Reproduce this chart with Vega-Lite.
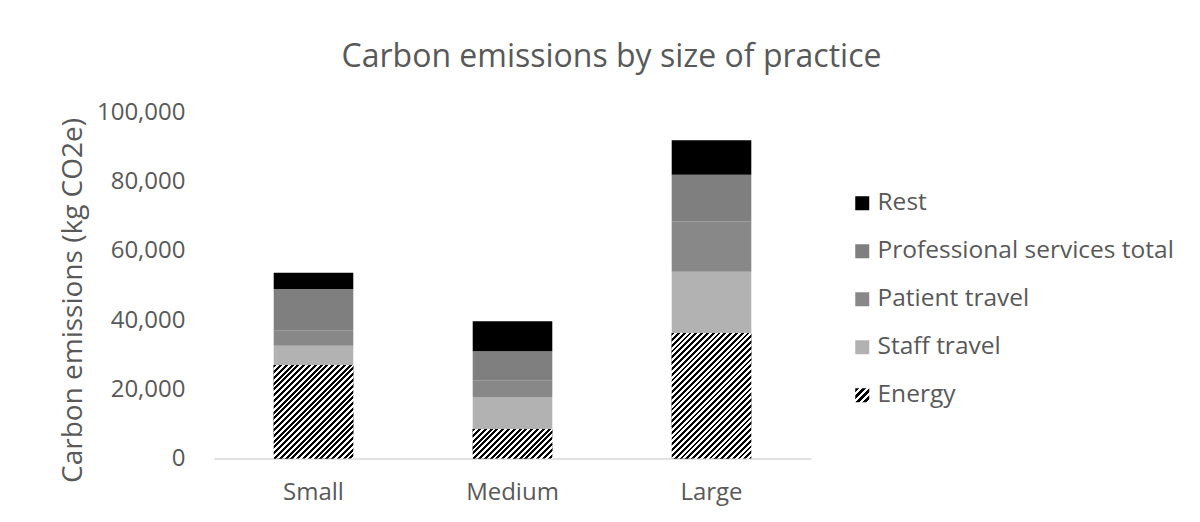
{
  "$schema": "https://vega.github.io/schema/vega-lite/v6.json",
  "width": 597,
  "height": 346,
  "autosize": {"type": "none"},
  "padding": {"left": 214, "top": 112.5, "right": 389, "bottom": 63.5},
  "background": "#ffffff",
  "params": [
    {
      "name": "swatchHatch",
      "value": {
        "gradient": "linear", "x1": 0, "y1": 0, "x2": 1, "y2": 1,
        "stops": [
          {"offset": 0, "color": "#000"}, {"offset": 0.125, "color": "#000"},
          {"offset": 0.125, "color": "#fff"}, {"offset": 0.25, "color": "#fff"},
          {"offset": 0.25, "color": "#000"}, {"offset": 0.375, "color": "#000"},
          {"offset": 0.375, "color": "#fff"}, {"offset": 0.5, "color": "#fff"},
          {"offset": 0.5, "color": "#000"}, {"offset": 0.625, "color": "#000"},
          {"offset": 0.625, "color": "#fff"}, {"offset": 0.75, "color": "#fff"},
          {"offset": 0.75, "color": "#000"}, {"offset": 0.875, "color": "#000"},
          {"offset": 0.875, "color": "#fff"}, {"offset": 1, "color": "#fff"}
        ]
      }
    },
    {
      "name": "hatch",
      "value": [
        {"offset": 0, "color": "#000"},
        {"offset": 0.0125, "color": "#000"}, {"offset": 0.0125, "color": "#fff"},
        {"offset": 0.025, "color": "#fff"}, {"offset": 0.025, "color": "#000"},
        {"offset": 0.0375, "color": "#000"}, {"offset": 0.0375, "color": "#fff"},
        {"offset": 0.05, "color": "#fff"}, {"offset": 0.05, "color": "#000"},
        {"offset": 0.0625, "color": "#000"}, {"offset": 0.0625, "color": "#fff"},
        {"offset": 0.075, "color": "#fff"}, {"offset": 0.075, "color": "#000"},
        {"offset": 0.0875, "color": "#000"}, {"offset": 0.0875, "color": "#fff"},
        {"offset": 0.1, "color": "#fff"}, {"offset": 0.1, "color": "#000"},
        {"offset": 0.1125, "color": "#000"}, {"offset": 0.1125, "color": "#fff"},
        {"offset": 0.125, "color": "#fff"}, {"offset": 0.125, "color": "#000"},
        {"offset": 0.1375, "color": "#000"}, {"offset": 0.1375, "color": "#fff"},
        {"offset": 0.15, "color": "#fff"}, {"offset": 0.15, "color": "#000"},
        {"offset": 0.1625, "color": "#000"}, {"offset": 0.1625, "color": "#fff"},
        {"offset": 0.175, "color": "#fff"}, {"offset": 0.175, "color": "#000"},
        {"offset": 0.1875, "color": "#000"}, {"offset": 0.1875, "color": "#fff"},
        {"offset": 0.2, "color": "#fff"}, {"offset": 0.2, "color": "#000"},
        {"offset": 0.2125, "color": "#000"}, {"offset": 0.2125, "color": "#fff"},
        {"offset": 0.225, "color": "#fff"}, {"offset": 0.225, "color": "#000"},
        {"offset": 0.2375, "color": "#000"}, {"offset": 0.2375, "color": "#fff"},
        {"offset": 0.25, "color": "#fff"}, {"offset": 0.25, "color": "#000"},
        {"offset": 0.2625, "color": "#000"}, {"offset": 0.2625, "color": "#fff"},
        {"offset": 0.275, "color": "#fff"}, {"offset": 0.275, "color": "#000"},
        {"offset": 0.2875, "color": "#000"}, {"offset": 0.2875, "color": "#fff"},
        {"offset": 0.3, "color": "#fff"}, {"offset": 0.3, "color": "#000"},
        {"offset": 0.3125, "color": "#000"}, {"offset": 0.3125, "color": "#fff"},
        {"offset": 0.325, "color": "#fff"}, {"offset": 0.325, "color": "#000"},
        {"offset": 0.3375, "color": "#000"}, {"offset": 0.3375, "color": "#fff"},
        {"offset": 0.35, "color": "#fff"}, {"offset": 0.35, "color": "#000"},
        {"offset": 0.3625, "color": "#000"}, {"offset": 0.3625, "color": "#fff"},
        {"offset": 0.375, "color": "#fff"}, {"offset": 0.375, "color": "#000"},
        {"offset": 0.3875, "color": "#000"}, {"offset": 0.3875, "color": "#fff"},
        {"offset": 0.4, "color": "#fff"}, {"offset": 0.4, "color": "#000"},
        {"offset": 0.4125, "color": "#000"}, {"offset": 0.4125, "color": "#fff"},
        {"offset": 0.425, "color": "#fff"}, {"offset": 0.425, "color": "#000"},
        {"offset": 0.4375, "color": "#000"}, {"offset": 0.4375, "color": "#fff"},
        {"offset": 0.45, "color": "#fff"}, {"offset": 0.45, "color": "#000"},
        {"offset": 0.4625, "color": "#000"}, {"offset": 0.4625, "color": "#fff"},
        {"offset": 0.475, "color": "#fff"}, {"offset": 0.475, "color": "#000"},
        {"offset": 0.4875, "color": "#000"}, {"offset": 0.4875, "color": "#fff"},
        {"offset": 0.5, "color": "#fff"}, {"offset": 0.5, "color": "#000"},
        {"offset": 0.5125, "color": "#000"}, {"offset": 0.5125, "color": "#fff"},
        {"offset": 0.525, "color": "#fff"}, {"offset": 0.525, "color": "#000"},
        {"offset": 0.5375, "color": "#000"}, {"offset": 0.5375, "color": "#fff"},
        {"offset": 0.55, "color": "#fff"}, {"offset": 0.55, "color": "#000"},
        {"offset": 0.5625, "color": "#000"}, {"offset": 0.5625, "color": "#fff"},
        {"offset": 0.575, "color": "#fff"}, {"offset": 0.575, "color": "#000"},
        {"offset": 0.5875, "color": "#000"}, {"offset": 0.5875, "color": "#fff"},
        {"offset": 0.6, "color": "#fff"}, {"offset": 0.6, "color": "#000"},
        {"offset": 0.6125, "color": "#000"}, {"offset": 0.6125, "color": "#fff"},
        {"offset": 0.625, "color": "#fff"}, {"offset": 0.625, "color": "#000"},
        {"offset": 0.6375, "color": "#000"}, {"offset": 0.6375, "color": "#fff"},
        {"offset": 0.65, "color": "#fff"}, {"offset": 0.65, "color": "#000"},
        {"offset": 0.6625, "color": "#000"}, {"offset": 0.6625, "color": "#fff"},
        {"offset": 0.675, "color": "#fff"}, {"offset": 0.675, "color": "#000"},
        {"offset": 0.6875, "color": "#000"}, {"offset": 0.6875, "color": "#fff"},
        {"offset": 0.7, "color": "#fff"}, {"offset": 0.7, "color": "#000"},
        {"offset": 0.7125, "color": "#000"}, {"offset": 0.7125, "color": "#fff"},
        {"offset": 0.725, "color": "#fff"}, {"offset": 0.725, "color": "#000"},
        {"offset": 0.7375, "color": "#000"}, {"offset": 0.7375, "color": "#fff"},
        {"offset": 0.75, "color": "#fff"}, {"offset": 0.75, "color": "#000"},
        {"offset": 0.7625, "color": "#000"}, {"offset": 0.7625, "color": "#fff"},
        {"offset": 0.775, "color": "#fff"}, {"offset": 0.775, "color": "#000"},
        {"offset": 0.7875, "color": "#000"}, {"offset": 0.7875, "color": "#fff"},
        {"offset": 0.8, "color": "#fff"}, {"offset": 0.8, "color": "#000"},
        {"offset": 0.8125, "color": "#000"}, {"offset": 0.8125, "color": "#fff"},
        {"offset": 0.825, "color": "#fff"}, {"offset": 0.825, "color": "#000"},
        {"offset": 0.8375, "color": "#000"}, {"offset": 0.8375, "color": "#fff"},
        {"offset": 0.85, "color": "#fff"}, {"offset": 0.85, "color": "#000"},
        {"offset": 0.8625, "color": "#000"}, {"offset": 0.8625, "color": "#fff"},
        {"offset": 0.875, "color": "#fff"}, {"offset": 0.875, "color": "#000"},
        {"offset": 0.8875, "color": "#000"}, {"offset": 0.8875, "color": "#fff"},
        {"offset": 0.9, "color": "#fff"}, {"offset": 0.9, "color": "#000"},
        {"offset": 0.9125, "color": "#000"}, {"offset": 0.9125, "color": "#fff"},
        {"offset": 1, "color": "#fff"}
      ]
    }
  ],
  "title": {
    "text": "Carbon emissions by size of practice",
    "anchor": "middle",
    "frame": "group",
    "dx": 99,
    "offset": 2,
    "baseline": "alphabetic",
    "font": "Open Sans",
    "fontSize": 32,
    "fontWeight": "normal",
    "color": "#595959"
  },
  "data": {
    "values": [
      {"size": "Small", "category": "Energy", "value": 27000},
      {"size": "Small", "category": "Staff travel", "value": 5600},
      {"size": "Small", "category": "Patient travel", "value": 4450},
      {"size": "Small", "category": "Professional services total", "value": 11950},
      {"size": "Small", "category": "Rest", "value": 4700},
      {"size": "Medium", "category": "Energy", "value": 8500},
      {"size": "Medium", "category": "Staff travel", "value": 9300},
      {"size": "Medium", "category": "Patient travel", "value": 4800},
      {"size": "Medium", "category": "Professional services total", "value": 8400},
      {"size": "Medium", "category": "Rest", "value": 8700},
      {"size": "Large", "category": "Energy", "value": 36300},
      {"size": "Large", "category": "Staff travel", "value": 17700},
      {"size": "Large", "category": "Patient travel", "value": 14600},
      {"size": "Large", "category": "Professional services total", "value": 13400},
      {"size": "Large", "category": "Rest", "value": 10000}
    ]
  },
  "encoding": {
    "x": {
      "field": "size",
      "type": "nominal",
      "sort": ["Small", "Medium", "Large"],
      "scale": {"paddingInner": 0.6, "paddingOuter": 0.3},
      "axis": {
        "title": null,
        "labelAngle": 0,
        "labelFont": "Open Sans",
        "labelFontSize": 24,
        "labelColor": "#595959",
        "labelPadding": 22,
        "ticks": false,
        "domainColor": "#d9d9d9",
        "domainWidth": 1.5,
        "grid": false
      }
    },
    "y": {
      "field": "value",
      "type": "quantitative",
      "scale": {"domain": [0, 100000], "nice": false},
      "axis": {
        "title": "Carbon emissions (kg CO2e)",
        "values": [0, 20000, 40000, 60000, 80000, 100000],
        "format": ",.0f",
        "grid": false,
        "domain": false,
        "ticks": false,
        "labelFont": "Open Sans",
        "labelFontSize": 24,
        "labelColor": "#595959",
        "labelPadding": 29,
        "titleFont": "Open Sans",
        "titleFontSize": 28,
        "titleFontWeight": "normal",
        "titleColor": "#595959",
        "titlePadding": 9,
        "titleY": 187.5
      }
    }
  },
  "layer": [
    {
      "transform": [
        {"calculate": "indexof(['Energy', 'Staff travel', 'Patient travel', 'Professional services total', 'Rest'], datum.category)", "as": "stackOrder"}
      ],
      "mark": {"type": "bar"},
      "encoding": {
        "color": {
          "field": "category",
          "type": "nominal",
          "scale": {
            "domain": ["Energy", "Staff travel", "Patient travel", "Professional services total", "Rest"],
            "range": [{"expr": "swatchHatch"}, "#b2b2b2", "#888888", "#7f7f7f", "#000000"]
          },
          "legend": {
            "title": null,
            "orient": "none",
            "legendX": 636,
            "legendY": 78.5,
            "values": ["Rest", "Professional services total", "Patient travel", "Staff travel", "Energy"],
            "symbolType": "square",
            "symbolSize": 196,
            "symbolStrokeWidth": 0,
            "labelFont": "Open Sans",
            "labelFontSize": 24.5,
            "labelColor": "#595959",
            "labelOffset": 3,
            "rowPadding": 23,
            "padding": 0,
            "labelLimit": 400
          }
        },
        "order": {"field": "stackOrder", "type": "quantitative"}
      }
    },
    {
      "transform": [{"filter": "datum.category === 'Energy'"}],
      "mark": {
        "type": "bar",
        "fill": {"expr": "{gradient: 'linear', x1: 0, y1: 0, x2: bandwidth('x') * 232 / (pow(bandwidth('x'), 2) + pow(scale('y', 0) - scale('y', datum.value), 2)), y2: (scale('y', 0) - scale('y', datum.value)) * 232 / (pow(bandwidth('x'), 2) + pow(scale('y', 0) - scale('y', datum.value), 2)), stops: hatch}"}
      },
      "encoding": {
        "y": {"field": "value", "type": "quantitative", "stack": null}
      }
    }
  ],
  "config": {
    "view": {"stroke": null},
    "font": "Open Sans"
  }
}
